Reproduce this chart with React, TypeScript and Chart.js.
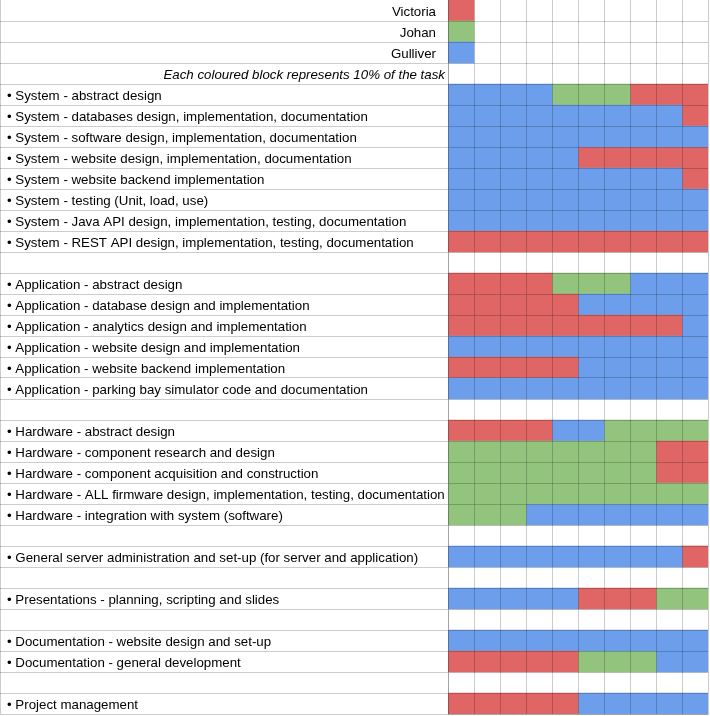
import React, { useEffect, useRef } from "react";
import { Chart, registerables } from "chart.js";

Chart.register(...registerables);

const people = ["Victoria", "Johan", "Gulliver"];
const personKeys = ["V", "J", "G"];
const personColors = ["#e06666", "#93c47d", "#6d9eeb"];
const note = "Each coloured block represents 10% of the task";

const tasks = [
  "System - abstract design",
  "System - databases design, implementation, documentation",
  "System - software design, implementation, documentation",
  "System - website design, implementation, documentation",
  "System - website backend implementation",
  "System - testing (Unit, load, use)",
  "System - Java API design, implementation, testing, documentation",
  "System - REST API design, implementation, testing, documentation",
  "",
  "Application - abstract design",
  "Application - database design and implementation",
  "Application - analytics design and implementation",
  "Application - website design and implementation",
  "Application - website backend implementation",
  "Application - parking bay simulator code and documentation",
  "",
  "Hardware - abstract design",
  "Hardware - component research and design",
  "Hardware - component acquisition and construction",
  "Hardware - ALL firmware design, implementation, testing, documentation",
  "Hardware - integration with system (software)",
  "",
  "General server administration and set-up (for server and application)",
  "",
  "Presentations - planning, scripting and slides",
  "",
  "Documentation - website design and set-up",
  "Documentation - general development",
  "",
  "Project management",
];

// shares in units of 10%
const victoria = [3, 1, 0, 5, 1, 0, 0, 10, 0, 4, 5, 9, 0, 5, 0, 0, 4, 2, 2, 0, 0, 0, 1, 0, 3, 0, 0, 5, 0, 5];
const johan = [3, 0, 0, 0, 0, 0, 0, 0, 0, 3, 0, 0, 0, 0, 0, 0, 4, 8, 8, 10, 3, 0, 0, 0, 2, 0, 0, 3, 0, 0];
const gulliver = [4, 9, 10, 5, 9, 10, 10, 0, 0, 3, 5, 1, 10, 5, 10, 0, 2, 0, 0, 0, 7, 0, 9, 0, 5, 0, 10, 2, 0, 5];
// left-to-right order of the blocks
const order = [
  "GJV", "GV", "G", "GV", "GV", "G", "G", "V", "",
  "VJG", "VG", "VG", "G", "VG", "G", "",
  "VGJ", "JV", "JV", "J", "JG", "",
  "GV", "", "GVJ", "", "G", "VJG", "", "VG",
];

export default function App() {
  const ref = useRef<HTMLCanvasElement>(null);

  useEffect(() => {
    document.body.style.margin = "0";
    const canvas = ref.current;
    if (!canvas) return;

    const rowLabels = [...people, note, ...tasks];
    const shares: Record<string, number[]> = {
      V: [1, 0, 0, 0, ...victoria],
      J: [0, 1, 0, 0, ...johan],
      G: [0, 0, 1, 0, ...gulliver],
    };
    const rowOrder = ["V", "J", "G", "", ...order];

    const datasets = [0, 1, 2].map((slot) => ({
      label: "slot" + slot,
      data: rowOrder.map((o, i) => (o[slot] ? shares[o[slot]][i] : 0)),
      backgroundColor: rowOrder.map((o) =>
        o[slot] ? personColors[personKeys.indexOf(o[slot])] : "rgba(0,0,0,0)"
      ),
      borderWidth: 0,
      barPercentage: 1,
      categoryPercentage: 1,
    }));

    const gridColor = "rgba(0,0,0,0.2)";

    const labelPlugin = {
      id: "rowLabels",
      afterDraw(chart: any) {
        const ctx = chart.ctx;
        const y = chart.scales.y;
        const area = chart.chartArea;
        ctx.save();
        ctx.strokeStyle = gridColor;
        ctx.lineWidth = 1;
        ctx.beginPath();
        ctx.moveTo(0.5, area.top);
        ctx.lineTo(0.5, area.bottom);
        ctx.stroke();
        ctx.fillStyle = "#000";
        ctx.textBaseline = "alphabetic";
        rowLabels.forEach((label: string, i: number) => {
          if (!label) return;
          const cy = y.getPixelForValue(i) + 5;
          if (i < 3) {
            ctx.font = "13.3px 'Liberation Sans', Arial, sans-serif";
            ctx.textAlign = "right";
            ctx.fillText(label, area.left - 12, cy);
          } else if (i === 3) {
            ctx.font = "italic 13.3px 'Liberation Sans', Arial, sans-serif";
            ctx.textAlign = "right";
            ctx.fillText(label, area.left - 3, cy);
          } else {
            ctx.font = "13.3px 'Liberation Sans', Arial, sans-serif";
            ctx.textAlign = "left";
            ctx.fillText("\u2022 " + label, 7, cy);
          }
        });
        ctx.restore();
      },
    };

    const chart = new Chart(canvas, {
      type: "bar",
      data: { labels: rowLabels, datasets },
      options: {
        indexAxis: "y",
        animation: false,
        responsive: false,
        layout: { padding: { top: 0, right: 2, bottom: 2, left: 0 } },
        plugins: { legend: { display: false }, tooltip: { enabled: false } },
        scales: {
          x: {
            type: "linear",
            stacked: true,
            min: 0,
            max: 10,
            position: "bottom",
            ticks: { display: false, stepSize: 1 },
            grid: { color: gridColor, drawTicks: false, lineWidth: 1, z: 1 },
            border: { display: true, color: gridColor, z: 2 },
            afterFit: (s: any) => {
              s.height = 0;
            },
          },
          y: {
            type: "category",
            stacked: true,
            ticks: { display: false },
            grid: {
              offset: true,
              color: gridColor,
              drawTicks: true,
              tickLength: 448,
              tickColor: gridColor,
              lineWidth: 1,
              z: 1,
            },
            border: { display: true, color: gridColor, z: 2 },
            afterFit: (s: any) => {
              s.width = 448;
            },
          },
        },
      },
      plugins: [labelPlugin],
    } as any);

    return () => chart.destroy();
  }, []);

  return (
    <div style={{ width: 710, height: 716, background: "#fff" }}>
      <canvas ref={ref} width={710} height={716} style={{ display: "block" }} />
    </div>
  );
}
